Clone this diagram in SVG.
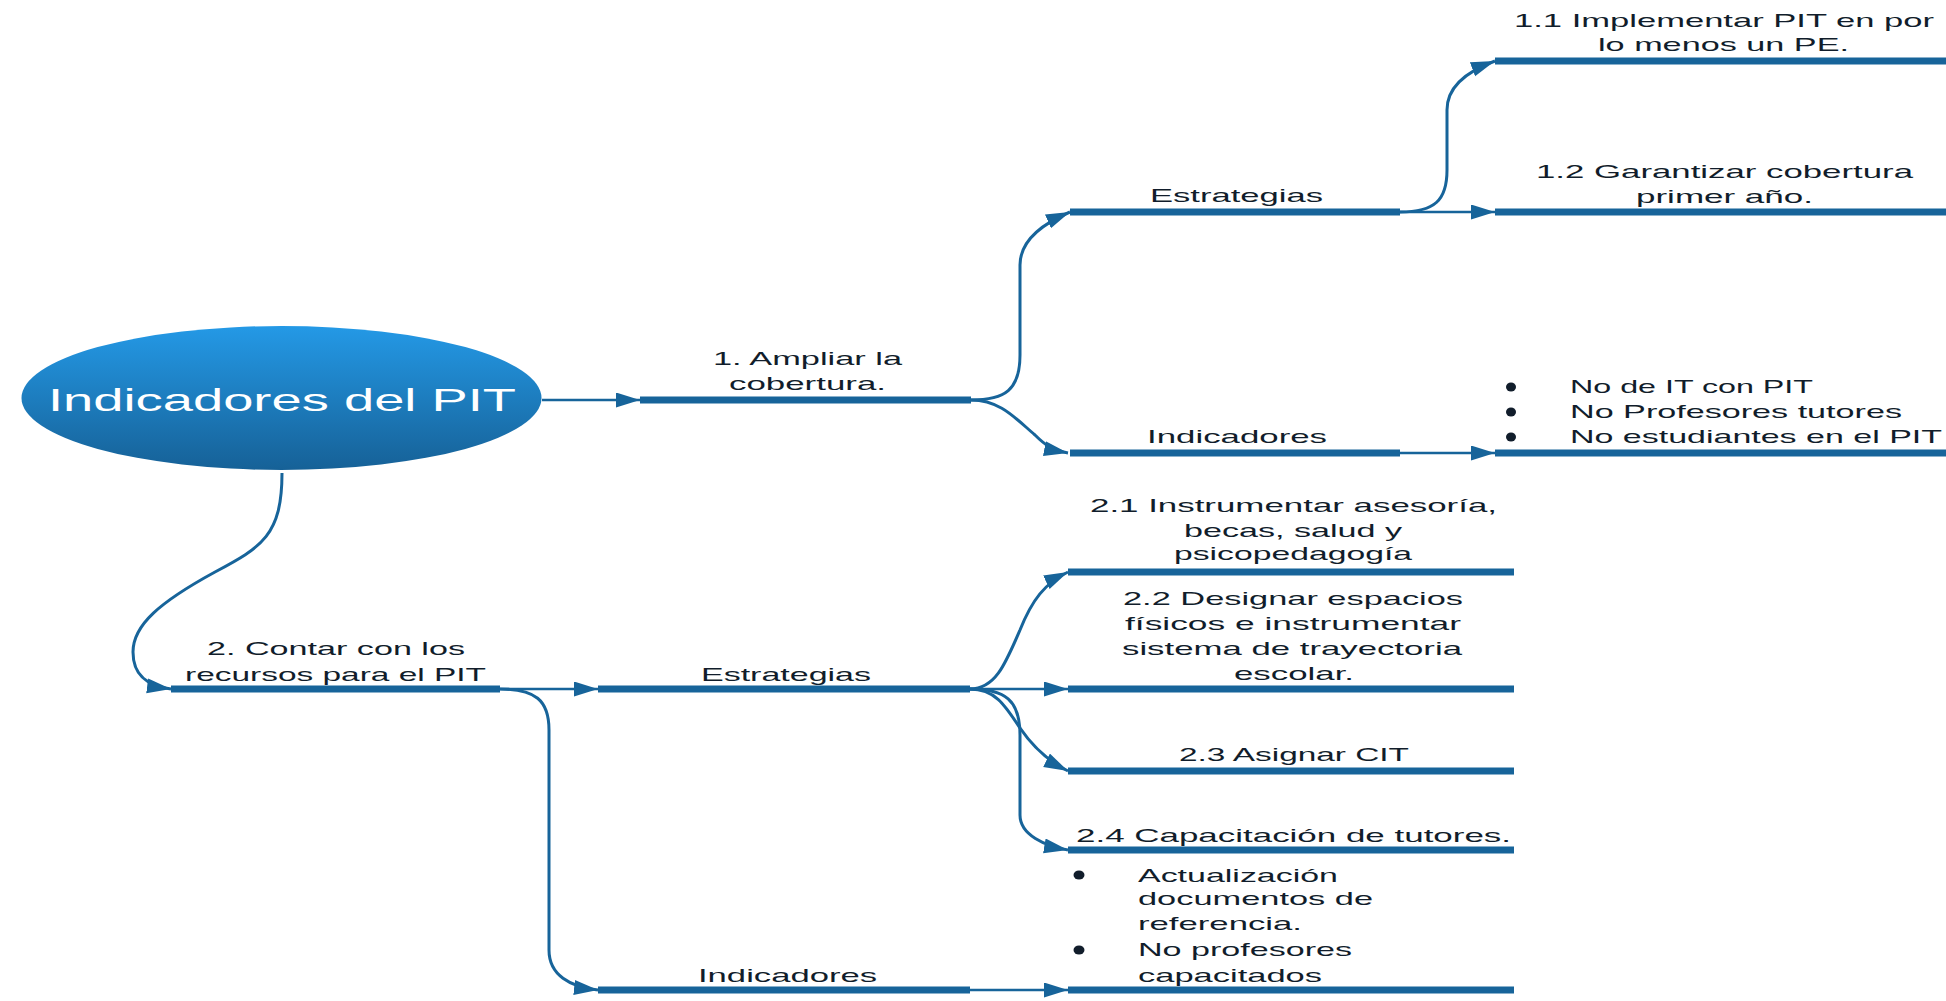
<svg xmlns="http://www.w3.org/2000/svg" width="1946" height="1001" viewBox="0 0 1946 1001">
<defs>
  <linearGradient id="rootGrad" x1="0" y1="0" x2="0" y2="1">
    <stop offset="0" stop-color="#2499E6"/>
    <stop offset="1" stop-color="#166197"/>
  </linearGradient>
  <marker id="ah" markerUnits="userSpaceOnUse" markerWidth="26" markerHeight="18" refX="24" refY="7.5" orient="auto">
    <path d="M0,0 L24,7.5 L0,15 z" fill="#17649a"/>
  </marker>
</defs>
<style>
  .bar { stroke: #17649a; stroke-width: 7; fill: none; }
  .conn { stroke: #17649a; stroke-width: 3; fill: none; marker-end: url(#ah); }
  .conn.straight { stroke-width: 2.5; }
  .txt { font-family: "Liberation Sans", Arial, sans-serif; font-size: 19px; fill: #111d2b; }
  .dot { fill: #111d2b; }
  .root { font-family: "Liberation Sans", Arial, sans-serif; font-size: 32px; fill: #ffffff; }
</style>
<rect x="0" y="0" width="1946" height="1001" fill="#ffffff"/>

<g id="connectors">
  <path class="conn straight" d="M542,400 L640,400"/>
  <path class="conn" d="M971,400 C1005,400 1020,390 1020,355 L1020,265 C1020,240 1042,224 1070,212"/>
  <path class="conn" d="M971,400 C1000,400 1015,418 1035,435 C1045,445 1052,450 1068,453"/>
  <path class="conn" d="M1400,212 C1435,212 1447,200 1447,170 L1447,110 C1447,88 1465,72 1495,61"/>
  <path class="conn straight" d="M1400,212 L1495,212"/>
  <path class="conn straight" d="M1400,453 L1495,453"/>
  <path class="conn" d="M282,473 C282,535 262,547 215,572 C160,602 133,625 133,652 C133,676 148,686 171,689"/>
  <path class="conn straight" d="M500,689 L598,689"/>
  <path class="conn" d="M500,689 C535,689 549,700 549,730 L549,950 C549,975 570,987 598,990"/>
  <path class="conn" d="M970,689 C995,689 1005,665 1020,630 C1032,600 1045,583 1068,572"/>
  <path class="conn straight" d="M970,689 L1068,689"/>
  <path class="conn" d="M970,689 C995,689 1005,705 1020,728 C1035,750 1050,762 1068,771"/>
  <path class="conn" d="M970,689 C1005,689 1020,700 1020,735 L1020,815 C1020,835 1045,846 1068,850"/>
  <path class="conn straight" d="M970,990 L1068,990"/>
</g>

<g id="n-root">
  <ellipse cx="281.5" cy="398" rx="260" ry="72" fill="url(#rootGrad)"/>
  <text class="root" x="48" y="411" textLength="468" lengthAdjust="spacingAndGlyphs">Indicadores del PIT</text>
</g>

<g id="n-1">
  <line class="bar" x1="640" y1="400" x2="971" y2="400"/>
  <text class="txt" x="713" y="365" textLength="189" lengthAdjust="spacingAndGlyphs">1. Ampliar la</text>
  <text class="txt" x="729" y="390" textLength="157" lengthAdjust="spacingAndGlyphs">cobertura.</text>
</g>

<g id="n-1-estrategias">
  <line class="bar" x1="1070" y1="212" x2="1400" y2="212"/>
  <text class="txt" x="1150" y="202" textLength="173" lengthAdjust="spacingAndGlyphs">Estrategias</text>
</g>

<g id="n-1-indicadores">
  <line class="bar" x1="1070" y1="453" x2="1400" y2="453"/>
  <text class="txt" x="1147" y="443" textLength="180" lengthAdjust="spacingAndGlyphs">Indicadores</text>
</g>

<g id="n-1-1">
  <line class="bar" x1="1495" y1="61" x2="1946" y2="61"/>
  <text class="txt" x="1514" y="27" textLength="420" lengthAdjust="spacingAndGlyphs">1.1 Implementar PIT en por</text>
  <text class="txt" x="1598" y="51" textLength="251" lengthAdjust="spacingAndGlyphs">lo menos un PE.</text>
</g>

<g id="n-1-2">
  <line class="bar" x1="1495" y1="212" x2="1946" y2="212"/>
  <text class="txt" x="1536" y="178" textLength="377" lengthAdjust="spacingAndGlyphs">1.2 Garantizar cobertura</text>
  <text class="txt" x="1636" y="203" textLength="177" lengthAdjust="spacingAndGlyphs">primer año.</text>
</g>

<g id="n-1-indicadores-list">
  <line class="bar" x1="1495" y1="453" x2="1946" y2="453"/>
  <ellipse class="dot" cx="1511" cy="387" rx="5" ry="4.5"/>
  <ellipse class="dot" cx="1511" cy="412" rx="5" ry="4.5"/>
  <ellipse class="dot" cx="1511" cy="437" rx="5" ry="4.5"/>
  <text class="txt" x="1570" y="393" textLength="243" lengthAdjust="spacingAndGlyphs">No de IT con PIT</text>
  <text class="txt" x="1570" y="418" textLength="332" lengthAdjust="spacingAndGlyphs">No Profesores tutores</text>
  <text class="txt" x="1570" y="443" textLength="372" lengthAdjust="spacingAndGlyphs">No estudiantes en el PIT</text>
</g>

<g id="n-2">
  <line class="bar" x1="171" y1="689" x2="500" y2="689"/>
  <text class="txt" x="207" y="655" textLength="258" lengthAdjust="spacingAndGlyphs">2. Contar con los</text>
  <text class="txt" x="185" y="681" textLength="301" lengthAdjust="spacingAndGlyphs">recursos para el PIT</text>
</g>

<g id="n-2-estrategias">
  <line class="bar" x1="598" y1="689" x2="970" y2="689"/>
  <text class="txt" x="701" y="681" textLength="170" lengthAdjust="spacingAndGlyphs">Estrategias</text>
</g>

<g id="n-2-indicadores">
  <line class="bar" x1="598" y1="990" x2="970" y2="990"/>
  <text class="txt" x="698" y="982" textLength="179" lengthAdjust="spacingAndGlyphs">Indicadores</text>
</g>

<g id="n-2-1">
  <line class="bar" x1="1068" y1="572" x2="1514" y2="572"/>
  <text class="txt" x="1090" y="512" textLength="407" lengthAdjust="spacingAndGlyphs">2.1 Instrumentar asesoría,</text>
  <text class="txt" x="1184" y="537" textLength="218" lengthAdjust="spacingAndGlyphs">becas, salud y</text>
  <text class="txt" x="1174" y="560" textLength="238" lengthAdjust="spacingAndGlyphs">psicopedagogía</text>
</g>

<g id="n-2-2">
  <line class="bar" x1="1068" y1="689" x2="1514" y2="689"/>
  <text class="txt" x="1123" y="605" textLength="340" lengthAdjust="spacingAndGlyphs">2.2 Designar espacios</text>
  <text class="txt" x="1125" y="630" textLength="336" lengthAdjust="spacingAndGlyphs">físicos e instrumentar</text>
  <text class="txt" x="1122" y="655" textLength="340" lengthAdjust="spacingAndGlyphs">sistema de trayectoria</text>
  <text class="txt" x="1234" y="680" textLength="120" lengthAdjust="spacingAndGlyphs">escolar.</text>
</g>

<g id="n-2-3">
  <line class="bar" x1="1068" y1="771" x2="1514" y2="771"/>
  <text class="txt" x="1179" y="761" textLength="230" lengthAdjust="spacingAndGlyphs">2.3 Asignar CIT</text>
</g>

<g id="n-2-4">
  <line class="bar" x1="1068" y1="850" x2="1514" y2="850"/>
  <text class="txt" x="1076" y="842" textLength="435" lengthAdjust="spacingAndGlyphs">2.4 Capacitación de tutores.</text>
</g>

<g id="n-2-indicadores-list">
  <line class="bar" x1="1068" y1="990" x2="1514" y2="990"/>
  <ellipse class="dot" cx="1079" cy="875" rx="5.5" ry="4.5"/>
  <ellipse class="dot" cx="1079" cy="950" rx="5.5" ry="4.5"/>
  <text class="txt" x="1138" y="882" textLength="200" lengthAdjust="spacingAndGlyphs">Actualización</text>
  <text class="txt" x="1138" y="905" textLength="235" lengthAdjust="spacingAndGlyphs">documentos de</text>
  <text class="txt" x="1138" y="930" textLength="164" lengthAdjust="spacingAndGlyphs">referencia.</text>
  <text class="txt" x="1138" y="956" textLength="214" lengthAdjust="spacingAndGlyphs">No profesores</text>
  <text class="txt" x="1138" y="982" textLength="184" lengthAdjust="spacingAndGlyphs">capacitados</text>
</g>
</svg>
